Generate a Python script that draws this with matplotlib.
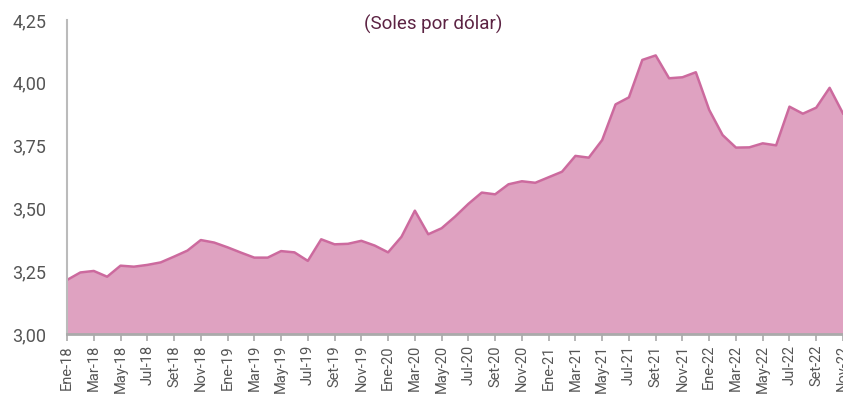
import matplotlib
matplotlib.use("Agg")
import matplotlib.pyplot as plt
import numpy as np

plt.rcParams['font.family'] = ['Roboto', 'DejaVu Sans']

months = ["Ene", "Feb", "Mar", "Abr", "May", "Jun", "Jul", "Ago", "Set", "Oct", "Nov", "Dic"]
years = ["18", "19", "20", "21", "22"]
periods = [f"{m}-{y}" for y in years for m in months][:59]

tipo_cambio = [
    3.215, 3.245, 3.251, 3.228, 3.272, 3.268, 3.275, 3.285, 3.308, 3.332, 3.374, 3.364,
    3.345, 3.324, 3.304, 3.304, 3.330, 3.325, 3.291, 3.377, 3.357, 3.359, 3.371, 3.352,
    3.325, 3.387, 3.491, 3.397, 3.421, 3.467, 3.518, 3.563, 3.556, 3.596, 3.608, 3.602,
    3.624, 3.646, 3.709, 3.702, 3.772, 3.914, 3.942, 4.091, 4.109, 4.018, 4.022, 4.042,
    3.892, 3.792, 3.742, 3.743, 3.759, 3.751, 3.905, 3.877, 3.901, 3.980, 3.878,
]

y_ticks = [3.00, 3.25, 3.50, 3.75, 4.00, 4.25]
y_tick_labels = ["3,00", "3,25", "3,50", "3,75", "4,00", "4,25"]
title = "(Soles por dólar)"

fig = plt.figure(figsize=(8.43, 4.01), dpi=100)
ax = fig.add_axes([67/843, 1 - 334/401, (843 - 67)/843, (334 - 20)/401])

x = np.arange(len(tipo_cambio))
ax.fill_between(x, 3.0, tipo_cambio, color="#dfa2c1", linewidth=0, zorder=1)
ax.plot(x, tipo_cambio, color="#cc6a9e", linewidth=1.8, zorder=2)

ax.set_xlim(0, len(tipo_cambio) - 1)
ax.set_ylim(3.0, 4.25)

ax.set_yticks(y_ticks)
ax.set_yticklabels(y_tick_labels, fontsize=13, color="#555555")
ax.tick_params(axis="y", length=0, pad=15)

ax.set_xticks(x[::2])
ax.set_xticklabels(periods[::2], rotation=90, fontsize=10.5, color="#555555")
ax.tick_params(axis="x", length=5, width=1.2, color="#aaaaaa", pad=3)

for s in ["top", "right"]:
    ax.spines[s].set_visible(False)
ax.spines["left"].set_color("#bbbbbb")
ax.spines["left"].set_linewidth(1.5)
ax.spines["bottom"].set_color("#aaaaaa")
ax.spines["bottom"].set_linewidth(2)
ax.spines["bottom"].set_zorder(3)

fig.text(433/843, 1 - 24/401, title, ha="center", va="center", fontsize=13.5, color="#5c2343")

fig.savefig("out.png", dpi=100)
